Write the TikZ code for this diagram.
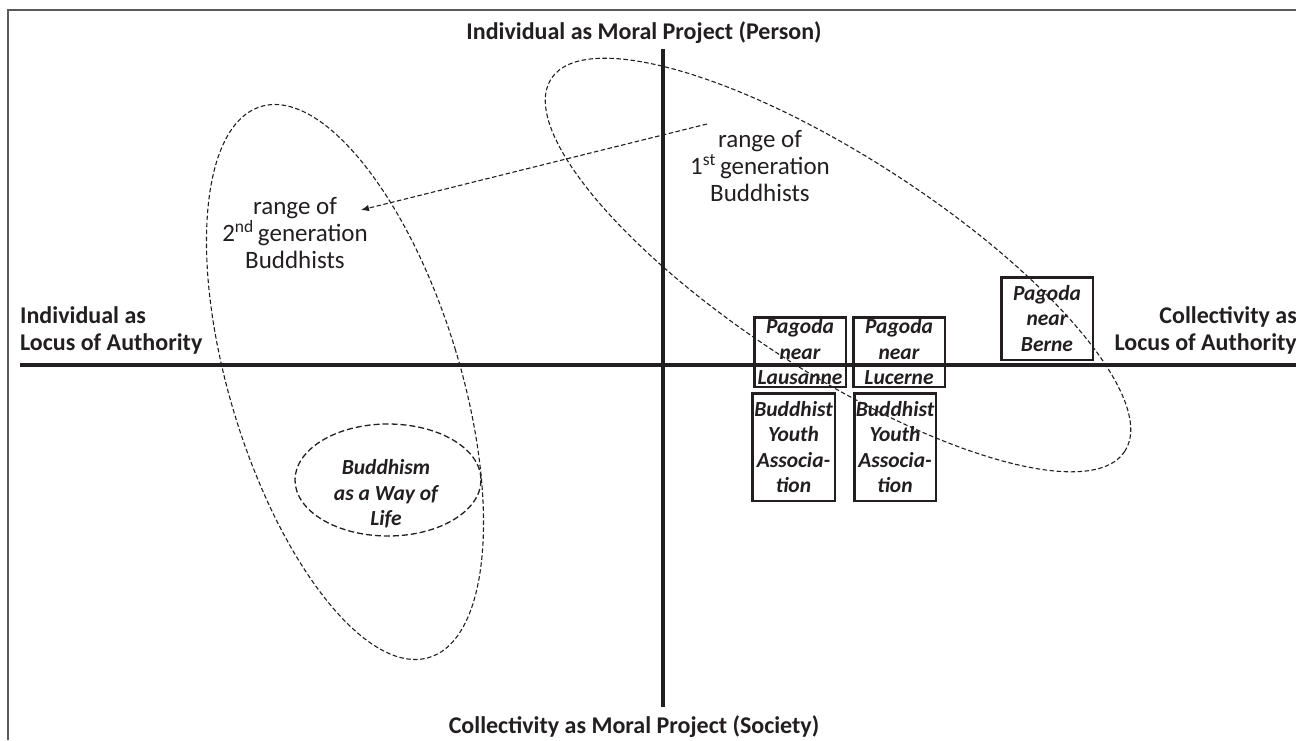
\documentclass[tikz,border=0pt]{standalone}
\usepackage{fontspec}
\setmainfont{Carlito}
\usetikzlibrary{arrows.meta}
\definecolor{ink}{HTML}{231F20}
\begin{document}
\begin{tikzpicture}[x=1pt,y=-1pt,
  axisline/.style={line width=4pt, draw=ink},
  axlabel/.style={font=\fontsize{24}{27}\selectfont\bfseries, text=ink, inner sep=0pt},
  rangetext/.style={font=\fontsize{25}{27}\selectfont, text=ink, align=center, inner sep=0pt},
  casebox/.style={draw=ink, line width=2.5pt, align=center, inner sep=0pt,
    font=\fontsize{21.5}{25.5}\selectfont\bfseries\itshape, text=ink},
  caselabel/.style={align=center, inner sep=0pt,
    font=\fontsize{21.5}{25.5}\selectfont\bfseries\itshape, text=ink},
  rangeline/.style={draw=ink, dash pattern=on 4.5pt off 2.5pt, line width=1.1pt},
  wayline/.style={draw=ink, dash pattern=on 6pt off 3pt, line width=1.3pt},
]
\useasboundingbox (0,0) rectangle (1296,740);
% frame
\coordinate (fbl) at (8,740);
\coordinate (ftl) at (8,10);
\coordinate (ftr) at (1296,10);
\draw[line width=1.5pt, draw=black!65] (fbl) -- (ftl) -- (ftr);
% axes
\coordinate (vtop) at (663,49);
\coordinate (vbot) at (663,707);
\coordinate (hleft) at (20,365);
\coordinate (hright) at (1296,365);
\draw[axisline] (vtop) -- (vbot);
\draw[axisline] (hleft) -- (hright);
% axis labels
\node[axlabel, anchor=base] (toplab) at (644,39) {Individual as Moral Project (Person)};
\node[axlabel, anchor=base] (botlab) at (634,733) {Collectivity as Moral Project (Society)};
\node[axlabel, anchor=south west, align=left] (leftlab) at (20,354.5) {Individual as\\Locus of Authority};
\node[axlabel, anchor=south east, align=right] (rightlab) at (1297,354.5) {Collectivity as\\Locus of Authority};
% ranges
\draw[rangeline, rotate around={17:(345,382)}] (345,382) ellipse [x radius=115, y radius=288];
\draw[rangeline, rotate around={-33:(838,265)}] (838,265) ellipse [x radius=342, y radius=107];
\draw[wayline] (388,480) ellipse [x radius=93, y radius=56];
\node[caselabel] (way) at (386,494) {Buddhism\\as a Way of\\Life};
\node[rangetext] (first) at (760,166.5) {range of\\1\textsuperscript{st}\,generation\\Buddhists};
\node[rangetext] (second) at (295,233) {range of\\2\textsuperscript{nd}\,generation\\Buddhists};
% arrow
\coordinate (arrS) at (707,124);
\coordinate (arrE) at (361,210);
\draw[rangeline, -{Latex[length=8pt,width=6.5pt]}] (arrS) -- (arrE);
% boxes
\node[casebox, minimum width=91.5pt, minimum height=69.5pt] (laus) at (800,352) {Pagoda\\near\\Lausanne};
\node[casebox, minimum width=91.5pt, minimum height=69.5pt] (luc) at (899,352) {Pagoda\\near\\Lucerne};
\node[casebox, minimum width=82.5pt, minimum height=107.5pt] (byal) at (793.5,447) {Buddhist\\Youth\\Associa-\\tion};
\node[casebox, minimum width=81.5pt, minimum height=107.5pt] (byac) at (895,447) {Buddhist\\Youth\\Associa-\\tion};
\node[casebox, minimum width=91.5pt, minimum height=82.5pt] (berne) at (1047,318.5) {Pagoda\\near\\Berne};
\end{tikzpicture}
\end{document}
